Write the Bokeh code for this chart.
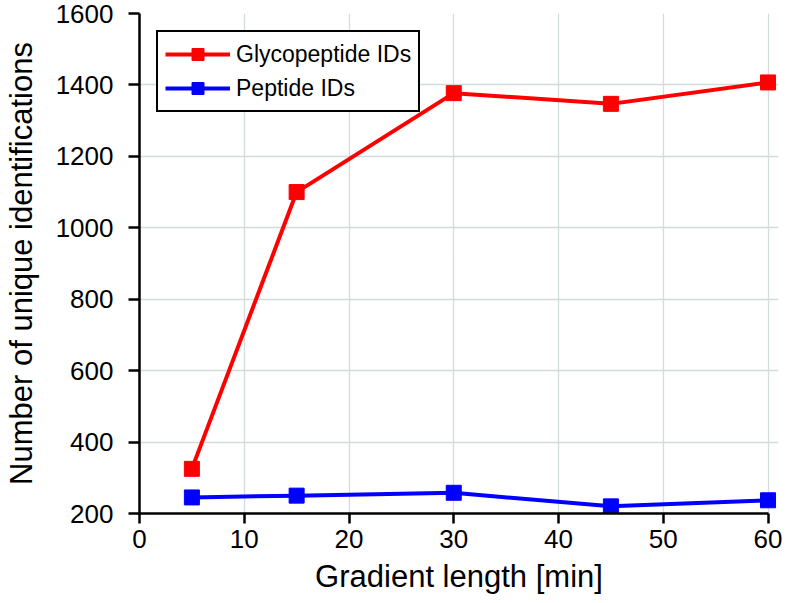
from bokeh.plotting import figure
from bokeh.models import Range1d, Legend, LegendItem, FixedTicker
from bokeh.embed import file_html
from bokeh.resources import INLINE

gradient_min = [5, 15, 30, 45, 60]
glyco_ids = [325, 1100, 1377, 1347, 1407]
peptide_ids = [245, 250, 258, 220, 237]
x_ticks = [0, 10, 20, 30, 40, 50, 60]
y_ticks = [200, 400, 600, 800, 1000, 1200, 1400, 1600]

FONT = "Liberation Sans"

p = figure(width=786, height=603, output_backend="svg", toolbar_location=None,
           x_range=Range1d(0, 61), y_range=Range1d(200, 1600),
           min_border_left=138, min_border_right=8, min_border_top=13, min_border_bottom=90)
p.outline_line_color = None

p.xgrid.ticker = FixedTicker(ticks=x_ticks)
p.ygrid.ticker = FixedTicker(ticks=y_ticks)
for g in (p.xgrid, p.ygrid):
    g.grid_line_color = "#d3dcdc"
    g.grid_line_width = 1.3
p.xgrid.bounds = (0, 60)

for ax in (p.xaxis, p.yaxis):
    ax.axis_line_width = 2.5
    ax.axis_line_color = "black"
    ax.major_tick_line_width = 2.5
    ax.major_tick_line_color = "black"
    ax.minor_tick_line_color = None
    ax.major_tick_in = 0
    ax.major_label_text_font = FONT
    ax.major_label_text_font_size = "26px"
    ax.major_label_text_color = "black"
    ax.axis_label_text_font = FONT
    ax.axis_label_text_font_size = "31px"
    ax.axis_label_text_font_style = "normal"
    ax.axis_label_text_color = "black"

p.xaxis.ticker = FixedTicker(ticks=x_ticks)
p.yaxis.ticker = FixedTicker(ticks=y_ticks)
p.xaxis.bounds = (0, 60)
p.xaxis.major_tick_out = 10
p.yaxis.major_tick_out = 11
p.xaxis.major_label_standoff = 6
p.yaxis.major_label_standoff = 15
p.xaxis.axis_label = "Gradient length [min]"
p.yaxis.axis_label = "Number of unique identifications"
p.xaxis.axis_label_standoff = 8
p.yaxis.axis_label_standoff = 14

r1 = p.line(gradient_min, glyco_ids, line_color="#ff0000", line_width=4)
s1 = p.scatter(gradient_min, glyco_ids, marker="square", size=15, fill_color="#ff0000", line_color="#ff0000")
r2 = p.line(gradient_min, peptide_ids, line_color="#0000ff", line_width=4)
s2 = p.scatter(gradient_min, peptide_ids, marker="square", size=15, fill_color="#0000ff", line_color="#0000ff")

legend = Legend(items=[
    LegendItem(label="Glycopeptide IDs", renderers=[r1, s1]),
    LegendItem(label="Peptide IDs", renderers=[r2, s2]),
], location="top_left")
legend.margin = 17
legend.padding = 7
legend.spacing = 4
legend.glyph_width = 65
legend.glyph_height = 30
legend.label_text_font = FONT
legend.label_text_font_size = "23px"
legend.label_text_color = "black"
legend.label_standoff = 6
legend.border_line_color = "black"
legend.border_line_width = 2.5
legend.border_line_alpha = 1
legend.background_fill_alpha = 1
p.add_layout(legend)

open("out.html", "w").write(file_html(p, INLINE))
